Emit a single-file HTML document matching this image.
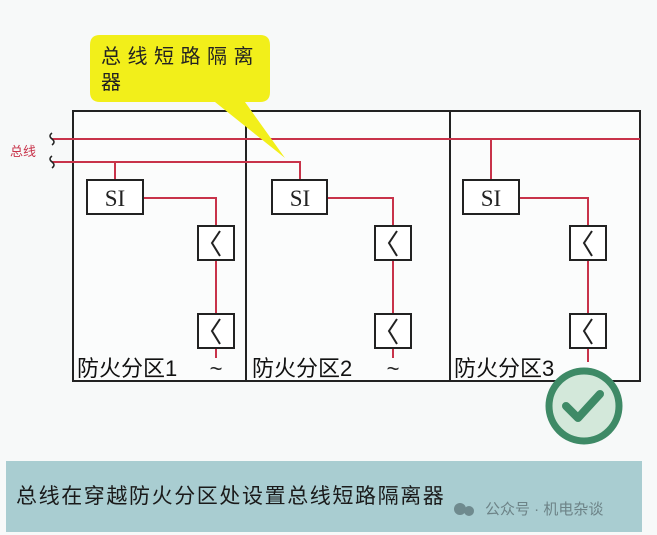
<!DOCTYPE html>
<html><head><meta charset="utf-8"><style>
html,body{margin:0;padding:0;background:#f7f9f9;}
svg{display:block}
text{font-family:"Liberation Sans","Noto Sans CJK SC",sans-serif;}
</style></head><body>
<svg width="657" height="535" viewBox="0 0 657 535" xmlns="http://www.w3.org/2000/svg">
<rect width="657" height="535" fill="#f7f9f9"/>
<rect x="73" y="111" width="567" height="270" fill="#fbfcfc" stroke="#222" stroke-width="2"/>
<line x1="246" y1="111" x2="246" y2="381" stroke="#222" stroke-width="2"/>
<line x1="450" y1="111" x2="450" y2="381" stroke="#222" stroke-width="2"/>
<g stroke="#c8334a" stroke-width="2" fill="none">
<line x1="52" y1="139" x2="640" y2="139"/>
<polyline points="52,162 300,162 300,180"/>
<line x1="115" y1="162" x2="115" y2="180"/>
<line x1="491" y1="139" x2="491" y2="180"/>
<polyline points="143,198 216,198 216,226"/>
<line x1="216" y1="260" x2="216" y2="314"/>
<line x1="216" y1="348" x2="216" y2="358"/>
<polyline points="327,198 393,198 393,226"/>
<line x1="393" y1="260" x2="393" y2="314"/>
<line x1="393" y1="348" x2="393" y2="358"/>
<polyline points="519,198 588,198 588,226"/>
<line x1="588" y1="260" x2="588" y2="314"/>
<line x1="588" y1="348" x2="588" y2="362"/>
</g>
<g stroke="#222" stroke-width="1.5" fill="none">
<path d="M52,133 q-4,3 0,6 q4,3 0,6"/>
<path d="M52,156 q-4,3 0,6 q4,3 0,6"/>
</g>
<text x="10" y="156" font-size="13" fill="#c8334a">总线</text>
<g fill="#fff" stroke="#222" stroke-width="2">
<rect x="87" y="180" width="56" height="34"/>
<rect x="272" y="180" width="55" height="34"/>
<rect x="463" y="180" width="56" height="34"/>
</g>
<g font-size="23" fill="#222" text-anchor="middle">
<text x="115" y="206" style="font-family:'Liberation Serif',serif">SI</text>
<text x="300" y="206" style="font-family:'Liberation Serif',serif">SI</text>
<text x="491" y="206" style="font-family:'Liberation Serif',serif">SI</text>
</g>
<g fill="#fff" stroke="#222" stroke-width="2">
<rect x="198" y="226" width="36" height="34"/><rect x="198" y="314" width="36" height="34"/>
<rect x="375" y="226" width="36" height="34"/><rect x="375" y="314" width="36" height="34"/>
<rect x="570" y="226" width="36" height="34"/><rect x="570" y="314" width="36" height="34"/>
</g>
<g stroke="#222" stroke-width="2" fill="none">
<path d="M220,231 l-8,12 l8,13"/><path d="M220,319 l-8,12 l8,13"/>
<path d="M397,231 l-8,12 l8,13"/><path d="M397,319 l-8,12 l8,13"/>
<path d="M592,231 l-8,12 l8,13"/><path d="M592,319 l-8,12 l8,13"/>
</g>
<g font-size="22" fill="#222" text-anchor="middle">
<text x="216" y="376">~</text><text x="393" y="376">~</text>
</g>
<g font-size="22" fill="#111">
<text x="77" y="376">防火分区1</text>
<text x="252" y="376">防火分区2</text>
<text x="454" y="376">防火分区3</text>
</g>
<path d="M100,35 H260 Q270,35 270,45 V92 Q270,102 260,102 H245 L285,158 L215,102 H100 Q90,102 90,92 V45 Q90,35 100,35 Z" fill="#f2ef1a"/>
<g font-size="20" fill="#222" letter-spacing="6.5">
<text x="101" y="63">总线短路隔离</text>
<text x="101" y="89">器</text>
</g>
<circle cx="584" cy="406" r="35" fill="#d3e8da" stroke="#3e8a66" stroke-width="7"/>
<path d="M566,406 l12,12 l22,-24" stroke="#3e8a66" stroke-width="8" fill="none" stroke-linecap="round" stroke-linejoin="round"/>
<rect x="6" y="461" width="636" height="71" fill="#a9cdd1"/>
<text x="16" y="503" font-size="21" letter-spacing="1.6" fill="#1a1a1a">总线在穿越防火分区处设置总线短路隔离器</text>
<circle cx="460" cy="509" r="6" fill="#6f8a8e"/><circle cx="469" cy="511" r="5" fill="#6f8a8e"/>
<text x="485" y="514" font-size="15" fill="#6d8387">公众号 · 机电杂谈</text>
</svg>
</body></html>
